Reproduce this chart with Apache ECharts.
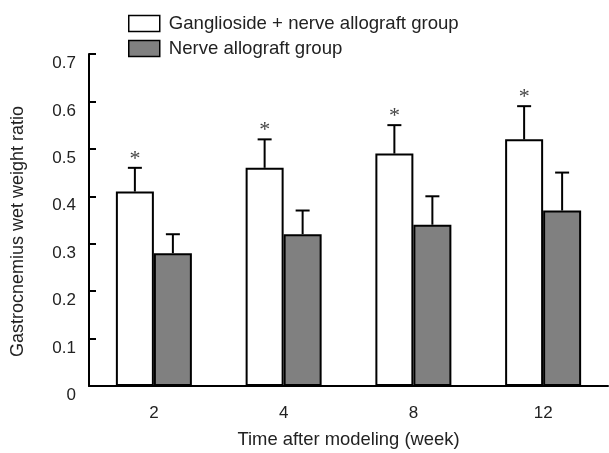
<!DOCTYPE html>
<html>
<head>
<meta charset="utf-8">
<title>Gastrocnemius wet weight ratio</title>
<script src="https://cdn.jsdelivr.net/npm/echarts@6/dist/echarts.min.js"></script>
<style>
  html, body { margin: 0; padding: 0; background: #fff; }
  #chart { width: 609px; height: 453px; }
</style>
</head>
<body>
<div id="chart"></div>
<script>
const weeks = ["2", "4", "8", "12"];
const yTicks = [0, 0.1, 0.2, 0.3, 0.4, 0.5, 0.6, 0.7];

const gangliosideMean = [0.41, 0.46, 0.49, 0.52];
const gangliosideUpper = [0.46, 0.52, 0.55, 0.59];
const allograftMean = [0.28, 0.32, 0.34, 0.37];
const allograftUpper = [0.32, 0.37, 0.40, 0.45];

const FONT = "'Liberation Sans', Arial, sans-serif";
const BAR_W = 38;

// upward-only error bar with a cap, optional asterisk above it
function errorBars(means, uppers, offset, star) {
  return {
    type: "custom",
    name: star ? "err-a" : "err-b",
    z: 5,
    encode: { x: 0, y: [1, 2] },
    data: means.map((m, i) => [i, m, uppers[i]]),
    renderItem: (params, api) => {
      const lo = api.coord([api.value(0), api.value(1)]);
      const hi = api.coord([api.value(0), api.value(2)]);
      const x = lo[0] + offset;
      const style = { stroke: "#000", lineWidth: 2 };
      const kids = [
        { type: "line", shape: { x1: x, y1: lo[1], x2: x, y2: hi[1] }, style },
        { type: "line", shape: { x1: x - 7, y1: hi[1], x2: x + 7, y2: hi[1] }, style }
      ];
      if (star) {
        kids.push({
          type: "text",
          style: {
            text: "*", x: x, y: hi[1] - 20,
            align: "center", verticalAlign: "top",
            font: "22px 'Liberation Serif', 'Times New Roman', serif",
            fill: "#444"
          }
        });
      }
      return { type: "group", children: kids };
    }
  };
}

const chart = echarts.init(document.getElementById("chart"));
chart.setOption({
  animation: false,
  backgroundColor: "#fff",
  textStyle: { fontFamily: FONT },
  grid: { left: 89, right: 1, top: 54, bottom: 67, outerBoundsMode: "none" },
  legend: {
    orient: "vertical",
    left: 123,
    top: 9,
    itemWidth: 31,
    itemHeight: 16,
    itemGap: 6,
    icon: "rect",
    selectedMode: false,
    itemStyle: { borderColor: "#000", borderWidth: 1.5 },
    textStyle: { fontFamily: FONT, fontSize: 18.6, color: "#222", padding: [0, 0, 0, 4] },
    data: ["Ganglioside + nerve allograft group", "Nerve allograft group"]
  },
  xAxis: {
    type: "category",
    data: weeks,
    name: "Time after modeling (week)",
    nameLocation: "middle",
    nameGap: 45,
    nameTextStyle: { fontFamily: FONT, fontSize: 18.4, color: "#222" },
    axisLine: { lineStyle: { color: "#000", width: 2 } },
    axisTick: { inside: true, length: 7, lineStyle: { color: "#000", width: 2 } },
    axisLabel: { fontFamily: FONT, fontSize: 17, color: "#222", margin: 19 }
  },
  yAxis: {
    type: "value",
    min: 0,
    max: 0.7,
    interval: 0.1,
    name: "Gastrocnemius wet weight ratio",
    nameLocation: "middle",
    nameGap: 62,
    nameTextStyle: { fontFamily: FONT, fontSize: 18, color: "#222", padding: [0, 23, 0, 0] },
    axisLine: { show: true, lineStyle: { color: "#000", width: 2 } },
    axisTick: { show: true, inside: true, length: 7, lineStyle: { color: "#000", width: 2 } },
    splitLine: { show: false },
    axisLabel: {
      fontFamily: FONT,
      fontSize: 17,
      color: "#222",
      margin: 13,
      verticalAlign: "top",
      padding: [1, 0, 0, 0],
      customValues: yTicks,
      formatter: (v) => (v === 0 ? "0" : v.toFixed(1))
    }
  },
  series: [
    {
      name: "Ganglioside + nerve allograft group",
      type: "bar",
      barWidth: BAR_W,
      barGap: "0%",
      data: gangliosideMean,
      itemStyle: { color: "#fff", borderColor: "#000", borderWidth: 2 }
    },
    {
      name: "Nerve allograft group",
      type: "bar",
      barWidth: BAR_W,
      barGap: "0%",
      data: allograftMean,
      itemStyle: { color: "#808080", borderColor: "#000", borderWidth: 2 }
    },
    errorBars(gangliosideMean, gangliosideUpper, -BAR_W / 2, true),
    errorBars(allograftMean, allograftUpper, BAR_W / 2, false)
  ]
});
</script>
</body>
</html>
